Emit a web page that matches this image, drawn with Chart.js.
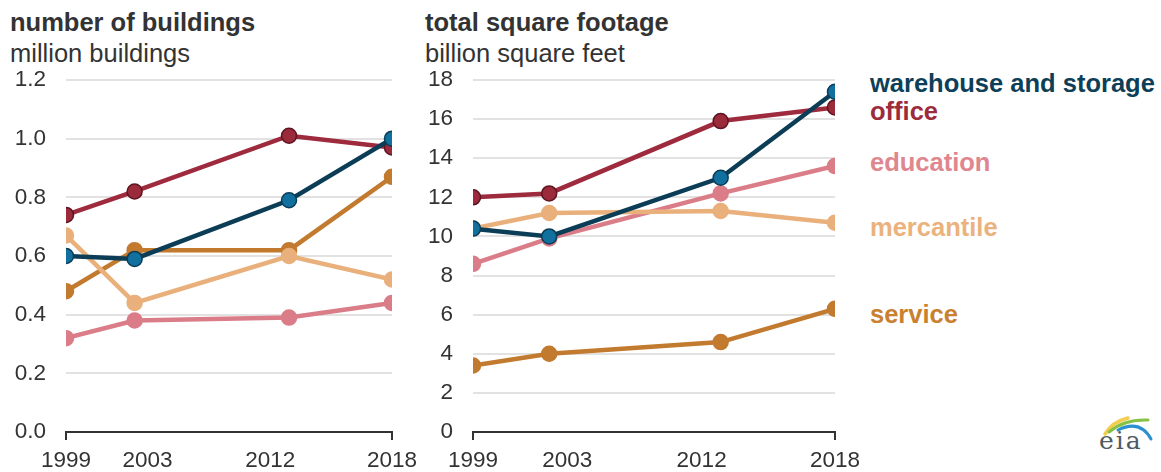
<!DOCTYPE html>
<html>
<head>
<meta charset="utf-8">
<script src="https://cdn.jsdelivr.net/npm/chart.js@4/dist/chart.umd.min.js"></script>
<style>
body { margin: 0; background: #fff; width: 1161px; height: 472px; overflow: hidden; position: relative; font-family: "Liberation Sans", Arial, sans-serif; }
canvas { position: absolute; top: 0; }
.t { position: absolute; font-size: 25.5px; line-height: 25px; color: #333; white-space: nowrap; }
.b { font-weight: bold; }
.lg { position: absolute; left: 870px; font-size: 25.5px; line-height: 25px; font-weight: bold; white-space: nowrap; }
#logo { position: absolute; left: 1090px; top: 410px; }
</style>
</head>
<body>
<div class="t b" style="left:10px;top:10px">number of buildings</div>
<div class="t" style="left:10px;top:41px">million buildings</div>
<div class="t b" style="left:425px;top:10px">total square footage</div>
<div class="t" style="left:425px;top:41px">billion square feet</div>

<canvas id="leftChart" width="424" height="472" style="left:0"></canvas>
<canvas id="rightChart" width="447" height="472" style="left:420px"></canvas>

<div class="lg" style="top:71px;color:#0e3f58">warehouse and storage</div>
<div class="lg" style="top:99px;color:#9c2b3c">office</div>
<div class="lg" style="top:150px;color:#e0868f">education</div>
<div class="lg" style="top:215px;color:#ebb27e">mercantile</div>
<div class="lg" style="top:302px;color:#c9812f">service</div>

<svg id="logo" width="70" height="56" viewBox="0 0 70 56">
  <path d="M15 24 Q22 12 38 8" stroke="#f3cd4e" stroke-width="3.5" fill="none" stroke-linecap="round"/>
  <path d="M19 22 Q34 9 58 10" stroke="#86c146" stroke-width="3" fill="none" stroke-linecap="round"/>
  <path d="M28 20 Q50 9 61 29" stroke="#2b8fd0" stroke-width="3" fill="none" stroke-linecap="round"/>
  <text x="9" y="39" font-family="DejaVu Serif, serif" font-size="25" letter-spacing="2" fill="#4f5a60">eia</text>
</svg>

<script>
// shared categories
const years = [1999, 2003, 2012, 2018];
const yearLabels = ['1999', '2003', '2012', '2018'];

// number of buildings (million)
const buildingTicks = [0, 0.2, 0.4, 0.6, 0.8, 1.0, 1.2];
const warehouseBuildings = [0.60, 0.59, 0.79, 1.00];
const officeBuildings = [0.74, 0.82, 1.01, 0.97];
const mercantileBuildings = [0.67, 0.44, 0.60, 0.52];
const serviceBuildings = [0.48, 0.62, 0.62, 0.87];
const educationBuildings = [0.32, 0.38, 0.39, 0.44];

// total square footage (billion sq ft)
const footageTicks = [0, 2, 4, 6, 8, 10, 12, 14, 16, 18];
const warehouseFootage = [10.4, 10.0, 13.0, 17.4];
const officeFootage = [12.0, 12.2, 15.9, 16.6];
const mercantileFootage = [10.4, 11.2, 11.3, 10.7];
const serviceFootage = [3.4, 4.0, 4.6, 6.3];
const educationFootage = [8.6, 9.9, 12.2, 13.6];

// first entry is drawn on top
const styles = {
    warehouse:  { line: '#0b3d56', fill: '#12709f', edge: '#0b3d56' },
    office:     { line: '#9e2a3d', fill: '#9b2a3a', edge: '#5e1522' },
    mercantile: { line: '#e9b07b', fill: '#e9b07b', edge: '#e9b07b' },
    service:    { line: '#c27a2f', fill: '#c27a2f', edge: '#c27a2f' },
    education:  { line: '#da7d88', fill: '#da7d88', edge: '#da7d88' }
};

const makeSet = (name, values) => ({
    label: name,
    data: values.map((v, i) => ({ x: years[i], y: v })),
    borderColor: styles[name].line,
    borderWidth: 4.5,
    backgroundColor: styles[name].fill,
    pointBackgroundColor: styles[name].fill,
    pointBorderColor: styles[name].edge,
    pointBorderWidth: 1.5,
    pointRadius: 7.5,
    tension: 0
});

const tickFont = { family: '"Liberation Sans", Arial, sans-serif', size: 22.5 };

// labelAt: where the year labels sit along the axis (the original nudges the middle two)
function drawPanel(id, series, yTicks, fmt, labelAt, padRight, axisWidth) {
    const ctx = document.getElementById(id).getContext('2d');
    new Chart(ctx, {
        type: 'line',
        data: {
            datasets: [
                makeSet('warehouse', series[0]),
                makeSet('office', series[1]),
                makeSet('mercantile', series[2]),
                makeSet('service', series[3]),
                makeSet('education', series[4])
            ]
        },
        options: {
            responsive: false,
            animation: false,
            layout: { padding: { top: 80, right: padRight, bottom: 0, left: 0 } },
            plugins: { legend: { display: false }, tooltip: { enabled: false } },
            scales: {
                x: {
                    type: 'linear',
                    min: years[0],
                    max: years[years.length - 1],
                    afterBuildTicks: s => { s.ticks = labelAt.map(v => ({ value: v })); },
                    afterFit: s => { s.height = 40; },
                    ticks: {
                        font: tickFont, color: '#333', padding: 7, maxRotation: 0,
                        callback: (v, i) => yearLabels[i]
                    },
                    grid: {
                        drawOnChartArea: false,
                        tickLength: 8,
                        lineWidth: 2,
                        color: c => (c.index === 0 || c.index === years.length - 1) ? '#333' : 'rgba(0,0,0,0)'
                    },
                    border: { display: true, color: '#333', width: 2 }
                },
                y: {
                    min: yTicks[0],
                    max: yTicks[yTicks.length - 1],
                    afterBuildTicks: s => { s.ticks = yTicks.map(v => ({ value: v })); },
                    afterFit: s => { s.width = axisWidth; },
                    ticks: { font: tickFont, color: '#333', padding: 20, callback: fmt },
                    grid: {
                        drawTicks: false,
                        lineWidth: 2,
                        color: c => c.tick && c.tick.value === 0 ? 'rgba(0,0,0,0)' : '#e2e2e2'
                    },
                    border: { display: false }
                }
            }
        }
    });
}

drawPanel('leftChart',
    [warehouseBuildings, officeBuildings, mercantileBuildings, serviceBuildings, educationBuildings],
    buildingTicks, v => v.toFixed(1), [1999, 2003.75, 2010.9, 2018], 28, 66);

drawPanel('rightChart',
    [warehouseFootage, officeFootage, mercantileFootage, serviceFootage, educationFootage],
    footageTicks, v => String(v), [1999, 2003.95, 2011.0, 2018], 24, 53);
</script>
</body>
</html>
